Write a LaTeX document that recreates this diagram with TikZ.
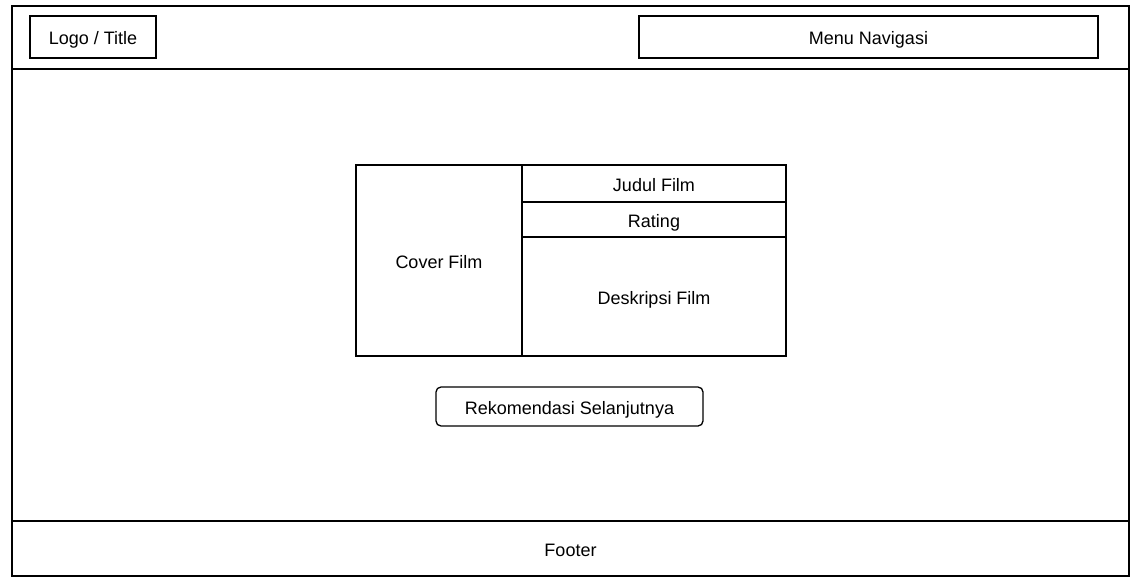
\documentclass[tikz,border=0pt]{standalone}
\usepackage{fontspec}
\setmainfont{Liberation Sans}
\usetikzlibrary{positioning}
\tikzset{
        wire box/.style={
		draw,
		line width=1.3pt,
		outer sep=0pt,
		inner sep=0pt,
		text height=15pt,
		text depth=0pt,
		font=\fontsize{18}{20}\selectfont,
	  },
  		wire button/.style={
    	wire box,
		rounded corners=5pt,
      }
  	}

\begin{document}
\begin{tikzpicture}[x=1pt, y=-1pt]
    \useasboundingbox (0,0) rectangle (1141,583);
    % frame of the page
    \node [wire box, minimum width=1117, minimum height=570] (page) at (570.5,291) {};
    \node [wire box, minimum width=1117, minimum height=63] (header) at (570.5,37.5) {};
    \node [wire box, minimum width=1117, minimum height=55] (footer) at (570.5,548.5) {Footer};
    % header contents
    \node [wire box, minimum width=126, minimum height=42] (logo) at (93,37) {Logo / Title};
    \node [wire box, minimum width=459, minimum height=42] (menu) at (868.5,37) {Menu Navigasi};
    % film card
    \node [wire box, minimum width=166, minimum height=191] (cover) at (439,260.5) {Cover Film};
    \node [wire box, minimum width=264, minimum height=37, anchor=north west] (judul) at (cover.north east) {Judul Film};
    \node [wire box, minimum width=264, minimum height=35, below=0pt of judul] (rating) {Rating};
    \node [wire box, minimum width=264, minimum height=119, below=0pt of rating] (deskripsi) {Deskripsi Film};
    \node [wire button, minimum width=267, minimum height=39] (rekomendasi) at (569.5,406.5) {Rekomendasi Selanjutnya};
  \end{tikzpicture}
\end{document}
